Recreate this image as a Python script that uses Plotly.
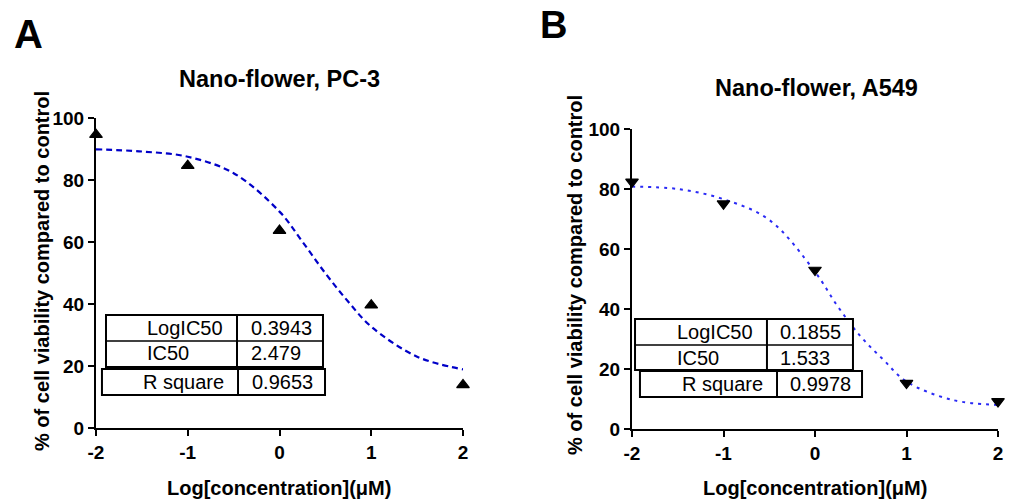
import plotly.graph_objects as go

# ---------------- data ----------------
log_conc = [-2, -1, 0, 1, 2]
pc3_viability = [94.6, 84.6, 63.7, 39.6, 13.9]
a549_viability = [82.4, 75.1, 53.0, 15.3, 9.2]

fit_x = [-2, -1.5, -1, -0.5, 0, 0.25, 0.5, 0.75, 1, 1.5, 2]
pc3_fit = [89.9, 89.2, 87.5, 82.2, 69.8, 60.1, 49.9, 40.7, 32.7, 23.0, 18.9]
a549_fit = [80.8, 80.0, 76.6, 69.7, 52.4, 40.8, 30.8, 23.0, 15.8, 9.7, 8.0]

x_ticks = [-2, -1, 0, 1, 2]
x_tick_labels = ["-2", "-1", "0", "1", "2"]
y_ticks = [0, 20, 40, 60, 80, 100]

pc3_table = [["LogIC50", "0.3943"], ["IC50", "2.479"]]
pc3_r2 = ["R square", "0.9653"]
a549_table = [["LogIC50", "0.1855"], ["IC50", "1.533"]]
a549_r2 = ["R square", "0.9978"]

FONT = "Arial, Liberation Sans, sans-serif"
W, H = 1016, 499

fig = go.Figure()

fig.add_trace(go.Scatter(x=fit_x, y=pc3_fit, mode="lines", line_shape="spline",
                         line=dict(color="#0000c8", width=2.2, dash="6px,4px"),
                         xaxis="x", yaxis="y", hoverinfo="skip"))
fig.add_trace(go.Scatter(x=log_conc, y=pc3_viability, mode="markers",
                         marker=dict(symbol="triangle-up", size=11, color="black",
                                     line=dict(color="black", width=1.2)),
                         cliponaxis=False, xaxis="x", yaxis="y"))
fig.add_trace(go.Scatter(x=fit_x, y=a549_fit, mode="lines", line_shape="spline",
                         line=dict(color="#2a2af5", width=2, dash="3px,5px"),
                         xaxis="x2", yaxis="y2", hoverinfo="skip"))
fig.add_trace(go.Scatter(x=log_conc, y=a549_viability, mode="markers",
                         marker=dict(symbol="triangle-down", size=11, color="black",
                                     line=dict(color="black", width=1.2)),
                         cliponaxis=False, xaxis="x2", yaxis="y2"))

axis_common = dict(showline=True, linecolor="black", linewidth=2, ticks="outside",
                   ticklen=6, tickwidth=2, tickcolor="black", showgrid=False,
                   zeroline=False, automargin=False,
                   tickfont=dict(family=FONT, size=19, color="black", weight="bold"))

fig.update_layout(
    template="none",
    width=W, height=H, margin=dict(l=0, r=0, t=0, b=0, pad=0, autoexpand=False),
    paper_bgcolor="white", plot_bgcolor="white", showlegend=False,
    xaxis=dict(domain=[96 / W, 463 / W], range=[-2, 2], tickvals=x_ticks,
               ticktext=x_tick_labels, anchor="y", **axis_common),
    yaxis=dict(domain=[1 - 428 / H, 1 - 118 / H], range=[0, 100], tickvals=y_ticks,
               anchor="x", **axis_common),
    xaxis2=dict(domain=[632 / W, 998 / W], range=[-2, 2], tickvals=x_ticks,
                ticktext=x_tick_labels, anchor="y2", **axis_common),
    yaxis2=dict(domain=[1 - 429 / H, 1 - 129 / H], range=[0, 100], tickvals=y_ticks,
                anchor="x2", **axis_common),
)

shapes = []
annotations = []


def add_table(xr, yr, box, rbox, col, rcol, rowdiv, lab_x, r_lab_x, val_x, r_val_x, rows_y, r_y,
              table, r2):
    line = dict(color="black", width=2)
    shapes.append(dict(type="rect", xref=xr, yref=yr, x0=box[0], x1=box[1], y0=box[2], y1=box[3],
                       line=line, fillcolor="white", layer="above"))
    shapes.append(dict(type="line", xref=xr, yref=yr, x0=col, x1=col, y0=box[2], y1=box[3], line=line))
    shapes.append(dict(type="line", xref=xr, yref=yr, x0=box[0], x1=box[1], y0=rowdiv, y1=rowdiv,
                       line=dict(color="black", width=1.6)))
    shapes.append(dict(type="rect", xref=xr, yref=yr, x0=rbox[0], x1=rbox[1], y0=rbox[2], y1=rbox[3],
                       line=line, fillcolor="white", layer="above"))
    shapes.append(dict(type="line", xref=xr, yref=yr, x0=rcol, x1=rcol, y0=rbox[2], y1=rbox[3], line=line))
    f = dict(family=FONT, size=20, color="black")
    for (lab, val), yy in zip(table, rows_y):
        annotations.append(dict(xref=xr, yref=yr, x=lab_x, y=yy, text=lab, showarrow=False,
                                xanchor="left", yanchor="middle", font=f))
        annotations.append(dict(xref=xr, yref=yr, x=val_x, y=yy, text=val, showarrow=False,
                                xanchor="left", yanchor="middle", font=f))
    annotations.append(dict(xref=xr, yref=yr, x=r_lab_x, y=r_y, text=r2[0], showarrow=False,
                            xanchor="left", yanchor="middle", font=f))
    annotations.append(dict(xref=xr, yref=yr, x=r_val_x, y=r_y, text=r2[1], showarrow=False,
                            xanchor="left", yanchor="middle", font=f))


add_table("x", "y", box=(-1.891, 0.474, 36.45, 19.68), rbox=(-1.935, 0.496, 19.03, 10.65),
          col=-0.463, rcol=-0.452, rowdiv=28.06, lab_x=-1.47, r_lab_x=-1.51,
          val_x=-0.33, r_val_x=-0.32, rows_y=[32.26, 24.19], r_y=14.84,
          table=pc3_table, r2=pc3_r2)
add_table("x2", "y2", box=(-1.967, 0.415, 36.67, 19.67), rbox=(-1.913, 0.514, 19.33, 10.67),
          col=-0.525, rcol=-0.415, rowdiv=28.0, lab_x=-1.53, r_lab_x=-1.48,
          val_x=-0.40, r_val_x=-0.30, rows_y=[32.33, 23.67], r_y=15.0,
          table=a549_table, r2=a549_r2)


def paper_text(px, py, text, size, angle=0):
    annotations.append(dict(xref="paper", yref="paper", x=px / W, y=1 - py / H, text=text,
                            showarrow=False, xanchor="center", yanchor="middle", textangle=angle,
                            font=dict(family=FONT, size=size, color="black")))


paper_text(28.5, 34, "<b>A</b>", 40)
paper_text(553, 25, "<b>B</b>", 38)
paper_text(279, 79, "<b>Nano-flower, PC-3</b>", 23.5)
paper_text(816, 88, "<b>Nano-flower, A549</b>", 23.5)
paper_text(42, 271, "<b>% of cell viability compared to control</b>", 20, -90)
paper_text(575, 275, "<b>% of cell viability compared to control</b>", 20, -90)
paper_text(279, 488, "<b>Log[concentration](μM)</b>", 20)
paper_text(815, 488, "<b>Log[concentration](μM)</b>", 20)

fig.update_layout(shapes=shapes, annotations=annotations)
fig.write_html("out.html")
